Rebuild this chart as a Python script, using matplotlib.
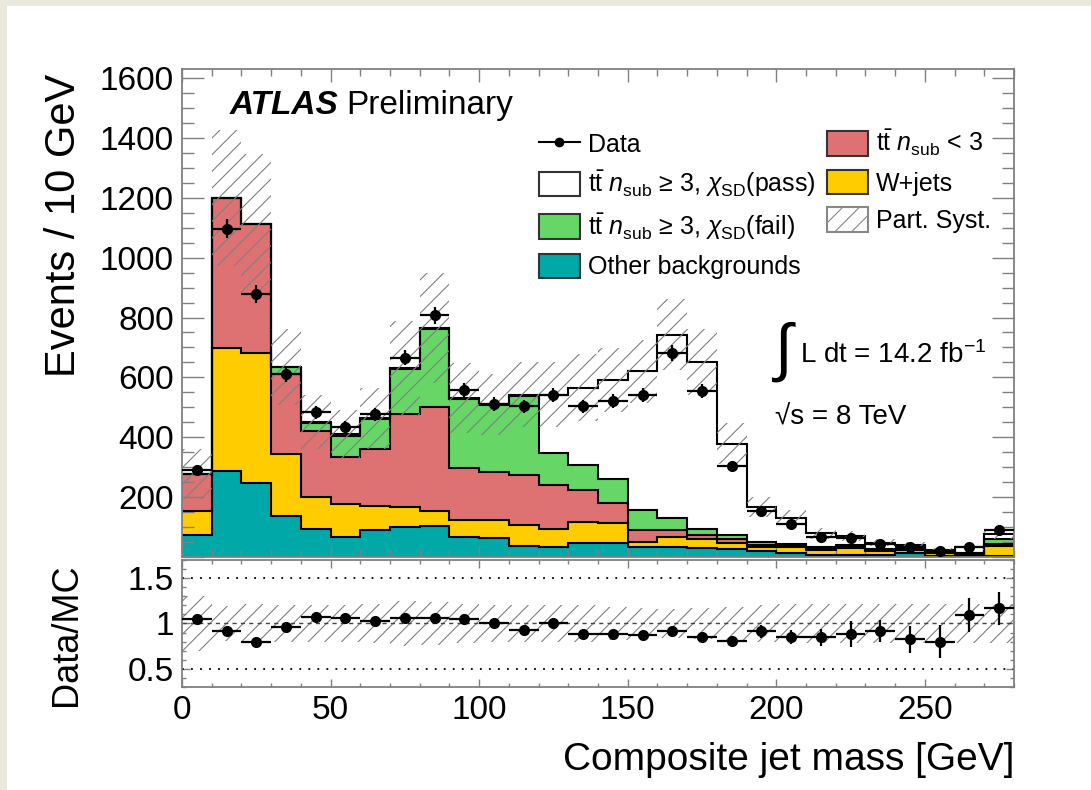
import numpy as np
import matplotlib
matplotlib.use('Agg')
import matplotlib.pyplot as plt
from matplotlib.patches import Patch, Rectangle
from matplotlib.lines import Line2D
from matplotlib.ticker import MultipleLocator, FuncFormatter

plt.rcParams['font.family'] = ['Liberation Sans', 'DejaVu Sans']
plt.rcParams['mathtext.fontset'] = 'custom'
plt.rcParams['mathtext.rm'] = 'Liberation Sans'
plt.rcParams['mathtext.it'] = 'Liberation Sans:italic'
plt.rcParams['mathtext.bf'] = 'Liberation Sans:bold'
plt.rcParams['hatch.linewidth'] = 0.8

# --- data (10 GeV bins, 0-280 GeV) ---
edges = np.arange(0, 290, 10)
other = [73, 288, 248, 137, 93, 68, 90, 99, 103, 68, 62, 37, 34, 48, 46, 32, 32, 29, 26, 20, 12, 8, 8, 6, 13, 4, 3, 5]
wjets = [81, 409, 435, 206, 108, 109, 80, 67, 51, 55, 61, 70, 58, 70, 68, 19, 36, 30, 20, 14, 22, 17, 22, 14, 9, 8, 7, 32]
tt_lt3 = [123, 503, 430, 267, 220, 157, 192, 313, 347, 173, 161, 166, 148, 105, 65, 39, 22, 14, 13, 6, 4, 3, 3, 2, 2, 2, 2, 7]
tt_fail = [0, 0, 0, 24, 27, 71, 98, 150, 261, 233, 224, 264, 106, 84, 80, 67, 39, 19, 14, 11, 7, 4, 7, 4, 4, 2, 2, 16]
tt_pass = [0, 0, 0, 2, 4, 5, 3, 1, 2, 2, 2, 5, 196, 259, 333, 464, 614, 559, 306, 117, 84, 47, 30, 22, 12, 9, 18, 17]
data = [290, 1097, 880, 610, 484, 434, 477, 666, 807, 557, 510, 503, 542, 503, 521, 540, 681, 554, 305, 154, 110, 67, 62, 44, 33, 20, 35, 90]
data_err = [17, 33, 30, 25, 22, 21, 22, 26, 28, 24, 23, 22, 23, 22, 23, 23, 26, 24, 17, 12, 10, 7.5, 10, 6, 6, 4.5, 6, 14]
syst = [0.30, 0.19, 0.21, 0.20, 0.20, 0.20, 0.22, 0.25, 0.24, 0.22, 0.20, 0.20, 0.20, 0.20, 0.18, 0.17, 0.16, 0.17, 0.18, 0.20, 0.22, 0.22, 0.22, 0.22, 0.22, 0.22, 0.22, 0.22]

c_other = '#00a8a8'
c_wjets = '#ffcc00'
c_lt3 = '#de7272'
c_fail = '#66d666'
c_pass = 'white'
c_frame = '#808080'

centers = edges[:-1] + 5
data = np.array(data, dtype=float)
data_err = np.array(data_err, dtype=float)
syst = np.array(syst)

fig = plt.figure(figsize=(10.91, 7.90), dpi=100)
fig.patch.set_facecolor('#ebe8dd')
fig.add_artist(Rectangle((7 / 1091, 0), 1, 1 - 6 / 790, transform=fig.transFigure,
                         facecolor='white', edgecolor='none', zorder=-1))

ax = fig.add_axes([0.1668, 0.2949, 0.7626, 0.6177])
rax = fig.add_axes([0.1668, 0.1304, 0.7626, 0.1608])

# stacked histogram
base = np.zeros(len(centers))
tops = []
for vals, col in zip([other, wjets, tt_lt3, tt_fail, tt_pass],
                     [c_other, c_wjets, c_lt3, c_fail, c_pass]):
    top = base + np.array(vals)
    ax.stairs(top, edges, baseline=base, fill=True, color=col, lw=0, zorder=1)
    tops.append(top)
    base = top
for top in tops:
    ax.stairs(top, edges, color='black', lw=1.5, baseline=None, zorder=2)
total = tops[-1]

# syst band
ax.bar(centers, 2 * total * syst, bottom=total * (1 - syst), width=10, fill=False,
       edgecolor='#808080', hatch='//', lw=0, zorder=3)

ax.errorbar(centers, data, xerr=5, yerr=data_err, fmt='o', color='black', ms=7,
            elinewidth=1.6, capsize=0, zorder=5)

ax.set_xlim(0, 280)
ax.set_ylim(0, 1630)
ax.xaxis.set_major_locator(MultipleLocator(50))
ax.xaxis.set_minor_locator(MultipleLocator(10))
ax.yaxis.set_major_locator(MultipleLocator(200))
ax.yaxis.set_minor_locator(MultipleLocator(50))
ax.yaxis.set_major_formatter(FuncFormatter(lambda v, p: '' if v == 0 else '%d' % v))
ax.tick_params(which='both', direction='in', top=True, right=True, labelbottom=False,
               color=c_frame, labelsize=24, pad=6)
ax.tick_params(axis='y', which='major', length=16, width=1)
ax.tick_params(axis='y', which='minor', length=8.5, width=1)
ax.tick_params(axis='x', which='major', length=9, width=1)
ax.tick_params(axis='x', which='minor', length=5, width=1)
ax.set_ylabel('Events / 10 GeV', fontsize=30, loc='top')
ax.yaxis.set_label_coords(-0.118, 0.99)

for a in (ax, rax):
    for s in a.spines.values():
        s.set_color(c_frame)
        s.set_linewidth(1.3)

# texts
ax.text(0.0577, 0.926, 'ATLAS', transform=ax.transAxes, fontsize=24, fontweight='bold',
        fontstyle='italic', va='center', ha='left')
ax.text(0.197, 0.926, 'Preliminary', transform=ax.transAxes, fontsize=24, va='center', ha='left')
ax.text(0.712, 0.42, '\u222b', transform=ax.transAxes, fontsize=46, va='center', ha='left')
ax.text(0.743, 0.414, 'L dt = 14.2 fb$^{-1}$', transform=ax.transAxes, fontsize=20,
        va='center', ha='left')
ax.text(0.713, 0.285, '\u221as = 8 TeV', transform=ax.transAxes, fontsize=20,
        va='center', ha='left')

# legend
handles = [
    Line2D([], [], color='black', marker='o', ms=6, lw=1.5),
    Patch(facecolor=c_pass, edgecolor='#333333', lw=1.5),
    Patch(facecolor=c_fail, edgecolor='#333333', lw=1.5),
    Patch(facecolor=c_other, edgecolor='#333333', lw=1.5),
    Patch(facecolor=c_lt3, edgecolor='#333333', lw=1.5),
    Patch(facecolor=c_wjets, edgecolor='#333333', lw=1.5),
    Patch(facecolor='white', edgecolor='#888888', hatch='//', lw=1.5),
]
labels = [
    'Data',
    r'$\mathrm{t\bar{t}}$ $n_{\mathrm{sub}}$ ' + '\u2265' + r' 3, $\chi_{\mathrm{SD}}$(pass)',
    r'$\mathrm{t\bar{t}}$ $n_{\mathrm{sub}}$ ' + '\u2265' + r' 3, $\chi_{\mathrm{SD}}$(fail)',
    'Other backgrounds',
    r'$\mathrm{t\bar{t}}$ $n_{\mathrm{sub}}$ < 3',
    'W+jets',
    'Part. Syst.',
]
ax.legend(handles, labels, ncol=2, loc='upper left', bbox_to_anchor=(0.429, 0.879),
          frameon=False, fontsize=18, handlelength=1.64, handleheight=1.12,
          handletextpad=0.32, columnspacing=0.45, labelspacing=0.47, borderpad=0,
          borderaxespad=0)

# ratio panel
ratio = data / total
ratio_err = data_err / total
rax.bar(centers, 2 * syst, bottom=1 - syst, width=10, fill=False,
        edgecolor='#808080', hatch='//', lw=0, zorder=1)
rax.axhline(1.5, color='black', ls=(0, (1, 4)), lw=1.3, zorder=2)
rax.axhline(0.5, color='black', ls=(0, (1, 4)), lw=1.3, zorder=2)
rax.axhline(1.0, color='#444444', ls=(0, (3, 3)), lw=1.0, zorder=2)
rax.errorbar(centers, ratio, xerr=5, yerr=ratio_err, fmt='o', color='black', ms=7,
             elinewidth=1.6, capsize=0, zorder=5)
rax.set_xlim(0, 280)
rax.set_ylim(0.3, 1.7)
rax.set_yticks([0.5, 1.0, 1.5])
rax.yaxis.set_major_formatter(FuncFormatter(lambda v, p: '%g' % v))
rax.yaxis.set_minor_locator(MultipleLocator(0.1))
rax.xaxis.set_major_locator(MultipleLocator(50))
rax.xaxis.set_minor_locator(MultipleLocator(10))
rax.tick_params(which='both', direction='in', top=True, right=True, color=c_frame,
                labelsize=24, pad=6)
rax.tick_params(which='major', length=6, width=1)
rax.tick_params(which='minor', length=3, width=1)
rax.set_ylabel('Data/MC', fontsize=26, loc='top')
rax.yaxis.set_label_coords(-0.118, 0.97)
rax.set_xlabel('Composite jet mass [GeV]', fontsize=28, loc='right')
rax.xaxis.set_label_coords(1.0, -0.43)

fig.savefig('out.png', dpi=100, facecolor=fig.get_facecolor())
